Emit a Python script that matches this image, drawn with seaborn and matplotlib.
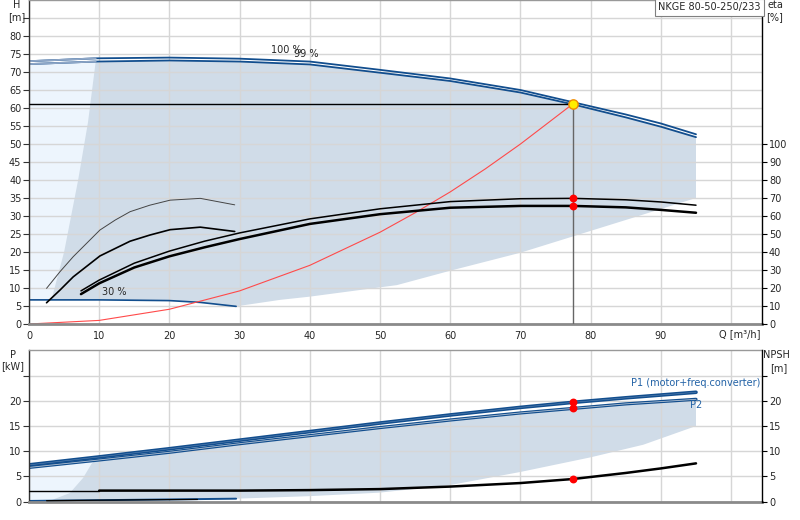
import numpy as np
import pandas as pd
import seaborn as sns
import matplotlib.pyplot as plt

# ---- values ----
# head curves, 100 % and 99 % speed
q_head = [0, 9.5, 20, 30, 40, 50, 60, 70, 77.5, 85, 90, 95]
h_100 = [73.0, 73.8, 74.0, 73.7, 72.9, 70.6, 68.2, 65.0, 61.6, 58.2, 55.7, 52.7]
h_99 = [72.2, 72.9, 73.2, 72.9, 72.1, 69.8, 67.5, 64.3, 61.0, 57.4, 54.8, 51.9]

# head curve at 30 % speed
q_30 = [0, 3.2, 10, 20, 24.4, 29.5]
h_30 = [6.7, 6.7, 6.7, 6.5, 6.0, 4.9]

# operating area edges (head)
q_edge = [3.2, 5.0, 7.0, 8.4, 9.5]
h_edge = [6.7, 20, 40, 56, 72.9]
q_low = [29.5, 35.75, 40, 52.4, 60, 70, 72.8, 86, 95]
h_low = [4.9, 6.7, 7.6, 10.8, 14.8, 19.8, 21.5, 29.5, 35.0]

# system curve
q_sys = [0, 10, 20, 30, 40, 50, 55, 60, 65, 70, 77.5]
h_sys = [0, 1.0, 4.1, 9.2, 16.3, 25.5, 30.9, 36.7, 43.1, 50.0, 61.2]

# efficiency curves [%]
q_eta = [7.4, 10, 15, 20, 25, 30, 40, 50, 60, 70, 77.5, 85, 90, 95]
eta_hi = [18.4, 24.4, 33.8, 40.5, 46.0, 50.6, 58.4, 64.0, 68.0, 69.6, 69.8, 69.0, 67.8, 66.0]
eta_lo = [16.6, 22.6, 31.4, 37.6, 42.6, 47.2, 55.6, 61.0, 64.6, 65.6, 65.6, 64.8, 63.4, 61.8]
q_eta_part = [2.5, 4.4, 6.3, 10.1, 12.3, 14.4, 17.2, 20.1, 24.4, 29.3]
eta_part_a = [19.8, 29.0, 37.4, 52.2, 57.8, 62.4, 66.0, 68.8, 69.8, 66.2]
eta_part_b = [11.8, 18.8, 26.2, 37.8, 42.0, 46.0, 49.4, 52.4, 53.8, 51.4]

# duty point
q_duty = 77.5
h_duty = 61.2
eta_duty = [69.8, 65.6]
p_duty = [19.7, 18.5]
npsh_duty = 4.5

# power curves [kW]
q_pow = [0, 9.5, 20, 30, 40, 50, 60, 70, 77.5, 85, 95]
p1 = [7.3, 8.8, 10.5, 12.2, 13.9, 15.6, 17.2, 18.7, 19.7, 20.6, 21.7]
p2 = [6.8, 8.2, 9.8, 11.5, 13.1, 14.7, 16.2, 17.6, 18.5, 19.4, 20.3]
q_p30 = [0, 10, 20, 29.5]
p_30 = [0.15, 0.3, 0.45, 0.6]

# power operating area edges
q_pedge = [3.0, 5.8, 7.7, 8.9, 9.5]
p_pedge = [0.2, 1.7, 4.7, 7.5, 8.2]
q_plow = [29.5, 40, 50, 60, 70, 80, 87.5, 95]
p_plow = [0.6, 1.1, 1.8, 3.3, 5.9, 8.8, 11.3, 15.0]

# NPSH [m]
q_npsh = [0, 10, 20, 30, 40, 50, 60, 70, 77.5, 85, 90, 95]
npsh = [2.2, 2.2, 2.2, 2.2, 2.3, 2.5, 3.0, 3.7, 4.5, 5.7, 6.6, 7.6]
q_npsh_low = [2.5, 10, 24]
npsh_low = [0.2, 0.3, 0.45]

model = "NKGE 80-50-250/233"

sns.set_style("whitegrid")
plt.rcParams["font.family"] = ["DejaVu Sans"]
plt.rcParams["font.size"] = 7

blue = "#124e8e"
blue_txt = "#2262a6"
fill_grey = "#d0dce8"
fill_light = "#edf5fd"
grid_c = "#d6d6d6"

fig = plt.figure(figsize=(8, 5.2), dpi=100)
ax = fig.add_axes([29 / 800, 1 - 324 / 520, 733 / 800, 324 / 520])
ax_p = fig.add_axes([29 / 800, 1 - 501.7 / 520, 733 / 800, 151.3 / 520])


def style_axes(a, tw):
    a.set_xlim(0, 104.4)
    a.grid(True, color=grid_c, lw=1.0)
    a.set_axisbelow("line")
    tw.grid(False)
    for s in ["left", "top", "bottom"]:
        tw.spines[s].set_visible(False)
    tw.spines["right"].set_color("black")
    tw.spines["right"].set_linewidth(1.0)
    a.spines["right"].set_visible(False)
    a.spines["left"].set_color("#333333")
    a.spines["left"].set_linewidth(1.0)
    a.spines["top"].set_color("#999999")
    a.spines["top"].set_linewidth(1.0)
    a.spines["bottom"].set_color("#8a8a8a")
    a.spines["bottom"].set_linewidth(2.0)
    a.tick_params(axis="y", direction="out", length=4, width=0.8, color="#333333",
                  pad=1.5, labelsize=7)
    tw.tick_params(axis="y", direction="out", length=3.5, width=0.8, color="black",
                   pad=1.5, labelsize=7)


# ---------------- top panel: head / efficiency ----------------
ax_eta = ax.twinx()
style_axes(ax, ax_eta)
ax.set_ylim(0, 90)
ax_eta.set_ylim(0, 180)
ax.set_xticks(range(0, 101, 10))
ax.set_xticklabels([str(v) for v in range(0, 91, 10)] + [""])
ax.tick_params(axis="x", direction="out", length=3, width=0.8, color="#333333",
               pad=2, labelsize=7)
ax.set_yticks(range(0, 86, 5))
ax.set_yticklabels([str(v) for v in range(0, 81, 5)] + [""])
ax_eta.set_yticks(range(0, 101, 10))

# shaded areas
ax.fill_between(q_head[:2], h_30[0], h_99[:2], color=fill_light, lw=0, zorder=1)
poly_q = q_edge + q_head[2:] + q_low[::-1] + q_30[::-1][1:-1]
poly_h = h_edge + h_99[2:] + h_low[::-1] + h_30[::-1][1:-1]
ax.fill(poly_q, poly_h, color=fill_grey, lw=0, zorder=1.1)

sns.lineplot(x=q_head, y=h_100, ax=ax, color=blue, lw=1.3)
sns.lineplot(x=q_head, y=h_99, ax=ax, color=blue, lw=1.3)
sns.lineplot(x=q_head[:2], y=h_100[:2], ax=ax, color="#8ea6c6", lw=1.3)
sns.lineplot(x=q_head[:2], y=h_99[:2], ax=ax, color="#8ea6c6", lw=1.3)
sns.lineplot(x=q_30, y=h_30, ax=ax, color=blue, lw=1.2)
sns.lineplot(x=q_sys, y=h_sys, ax=ax, color="#ff4a4a", lw=0.8)

ax.hlines(h_duty, 0, q_duty, color="black", lw=1.0, zorder=3)
ax.vlines(q_duty, 0, h_duty, color="#666666", lw=1.0, zorder=3)
ax.scatter([q_duty], [h_duty], s=45, c="#ffee00", edgecolors="#f08a00", lw=1.0, zorder=6)

sns.lineplot(x=q_eta, y=eta_hi, ax=ax_eta, color="black", lw=1.1)
sns.lineplot(x=q_eta, y=eta_lo, ax=ax_eta, color="black", lw=1.8)
sns.lineplot(x=q_eta_part, y=eta_part_a, ax=ax_eta, color="#444444", lw=0.7)
sns.lineplot(x=q_eta_part, y=eta_part_b, ax=ax_eta, color="black", lw=1.2)
ax_eta.scatter([q_duty] * 2, eta_duty, s=32, c="red", lw=0, zorder=6)
ax_eta.set_ylabel("")
ax.set_ylabel("")
ax.set_xlabel("")

ax.text(36.6, 76.0, "100 %", ha="center", va="center", fontsize=7)
ax.text(39.5, 75.0, "99 %", ha="center", va="center", fontsize=7)
ax.text(12.2, 9.0, "30 %", ha="center", va="center", fontsize=7)

ax.text(-0.0168, 0.985, "H", transform=ax.transAxes, ha="center", va="center", fontsize=7)
ax.text(-0.0165, 0.946, "[m]", transform=ax.transAxes, ha="center", va="center", fontsize=7)
ax.text(1.0177, 0.985, "eta", transform=ax.transAxes, ha="center", va="center", fontsize=7)
ax.text(1.0177, 0.946, "[%]", transform=ax.transAxes, ha="center", va="center", fontsize=7)
ax.text(101.2, -0.031, "Q [m³/h]", transform=ax.get_xaxis_transform(),
        ha="center", va="center", fontsize=7)
ax_eta.text(0.9985, 0.993, model, transform=ax.transAxes, ha="right", va="top",
            fontsize=7, zorder=10,
            bbox=dict(boxstyle="square,pad=0.35", fc="white", ec="#808080", lw=0.8))

# ---------------- bottom panel: power / NPSH ----------------
ax_n = ax_p.twinx()
style_axes(ax_p, ax_n)
ax_p.set_ylim(0, 30)
ax_n.set_ylim(0, 30)
ax_p.set_xticks(range(0, 101, 10))
ax_p.set_xticklabels([])
ax_p.tick_params(axis="x", length=0)
ax_p.set_yticks(range(0, 26, 5))
ax_p.set_yticklabels([str(v) for v in range(0, 21, 5)] + [""])
ax_n.set_yticks(range(0, 26, 5))
ax_n.set_yticklabels([str(v) for v in range(0, 21, 5)] + [""])

ax_p.fill_between(q_pow[:2], p_30[0], p2[:2], color=fill_light, lw=0, zorder=1)
ppoly_q = q_pedge + q_pow[2:] + q_plow[::-1] + q_p30[::-1][1:]
ppoly_p = p_pedge + p2[2:] + p_plow[::-1] + p_30[::-1][1:]
ax_p.fill(ppoly_q, ppoly_p, color=fill_grey, lw=0, zorder=1.1)

sns.lineplot(x=q_pow, y=p1, ax=ax_p, color=blue, lw=2.6)
sns.lineplot(x=q_pow, y=p2, ax=ax_p, color=blue, lw=2.3)
sns.lineplot(x=q_pow, y=p2, ax=ax_p, color="#b4c2d2", lw=0.6)
sns.lineplot(x=q_pow, y=p1, ax=ax_p, color="#5f84b0", lw=0.4)
sns.lineplot(x=q_p30, y=p_30, ax=ax_p, color=blue, lw=1.4)
ax_p.scatter([q_duty] * 2, p_duty, s=32, c="red", lw=0, zorder=6)

sns.lineplot(x=q_npsh[:2], y=npsh[:2], ax=ax_n, color="black", lw=1.0)
sns.lineplot(x=q_npsh[1:], y=npsh[1:], ax=ax_n, color="black", lw=1.8)
sns.lineplot(x=q_npsh_low, y=npsh_low, ax=ax_n, color="black", lw=0.9)
ax_n.scatter([q_duty], [npsh_duty], s=32, c="red", lw=0, zorder=6)
ax_n.set_ylabel("")
ax_p.set_ylabel("")
ax_p.set_xlabel("")

ax_p.text(94.9, 23.5, "P1 (motor+freq.converter)", color=blue_txt, ha="center",
          va="center", fontsize=7)
ax_p.text(95.0, 19.1, "P2", color=blue_txt, ha="center", va="center", fontsize=7)
ax_p.text(-0.022, 0.971, "P", transform=ax_p.transAxes, ha="center", va="center", fontsize=7)
ax_p.text(-0.022, 0.893, "[kW]", transform=ax_p.transAxes, ha="center", va="center", fontsize=7)
ax_p.text(1.020, 0.971, "NPSH", transform=ax_p.transAxes, ha="center", va="center", fontsize=7)
ax_p.text(1.023, 0.886, "[m]", transform=ax_p.transAxes, ha="center", va="center", fontsize=7)

fig.savefig("out.png", dpi=100)
